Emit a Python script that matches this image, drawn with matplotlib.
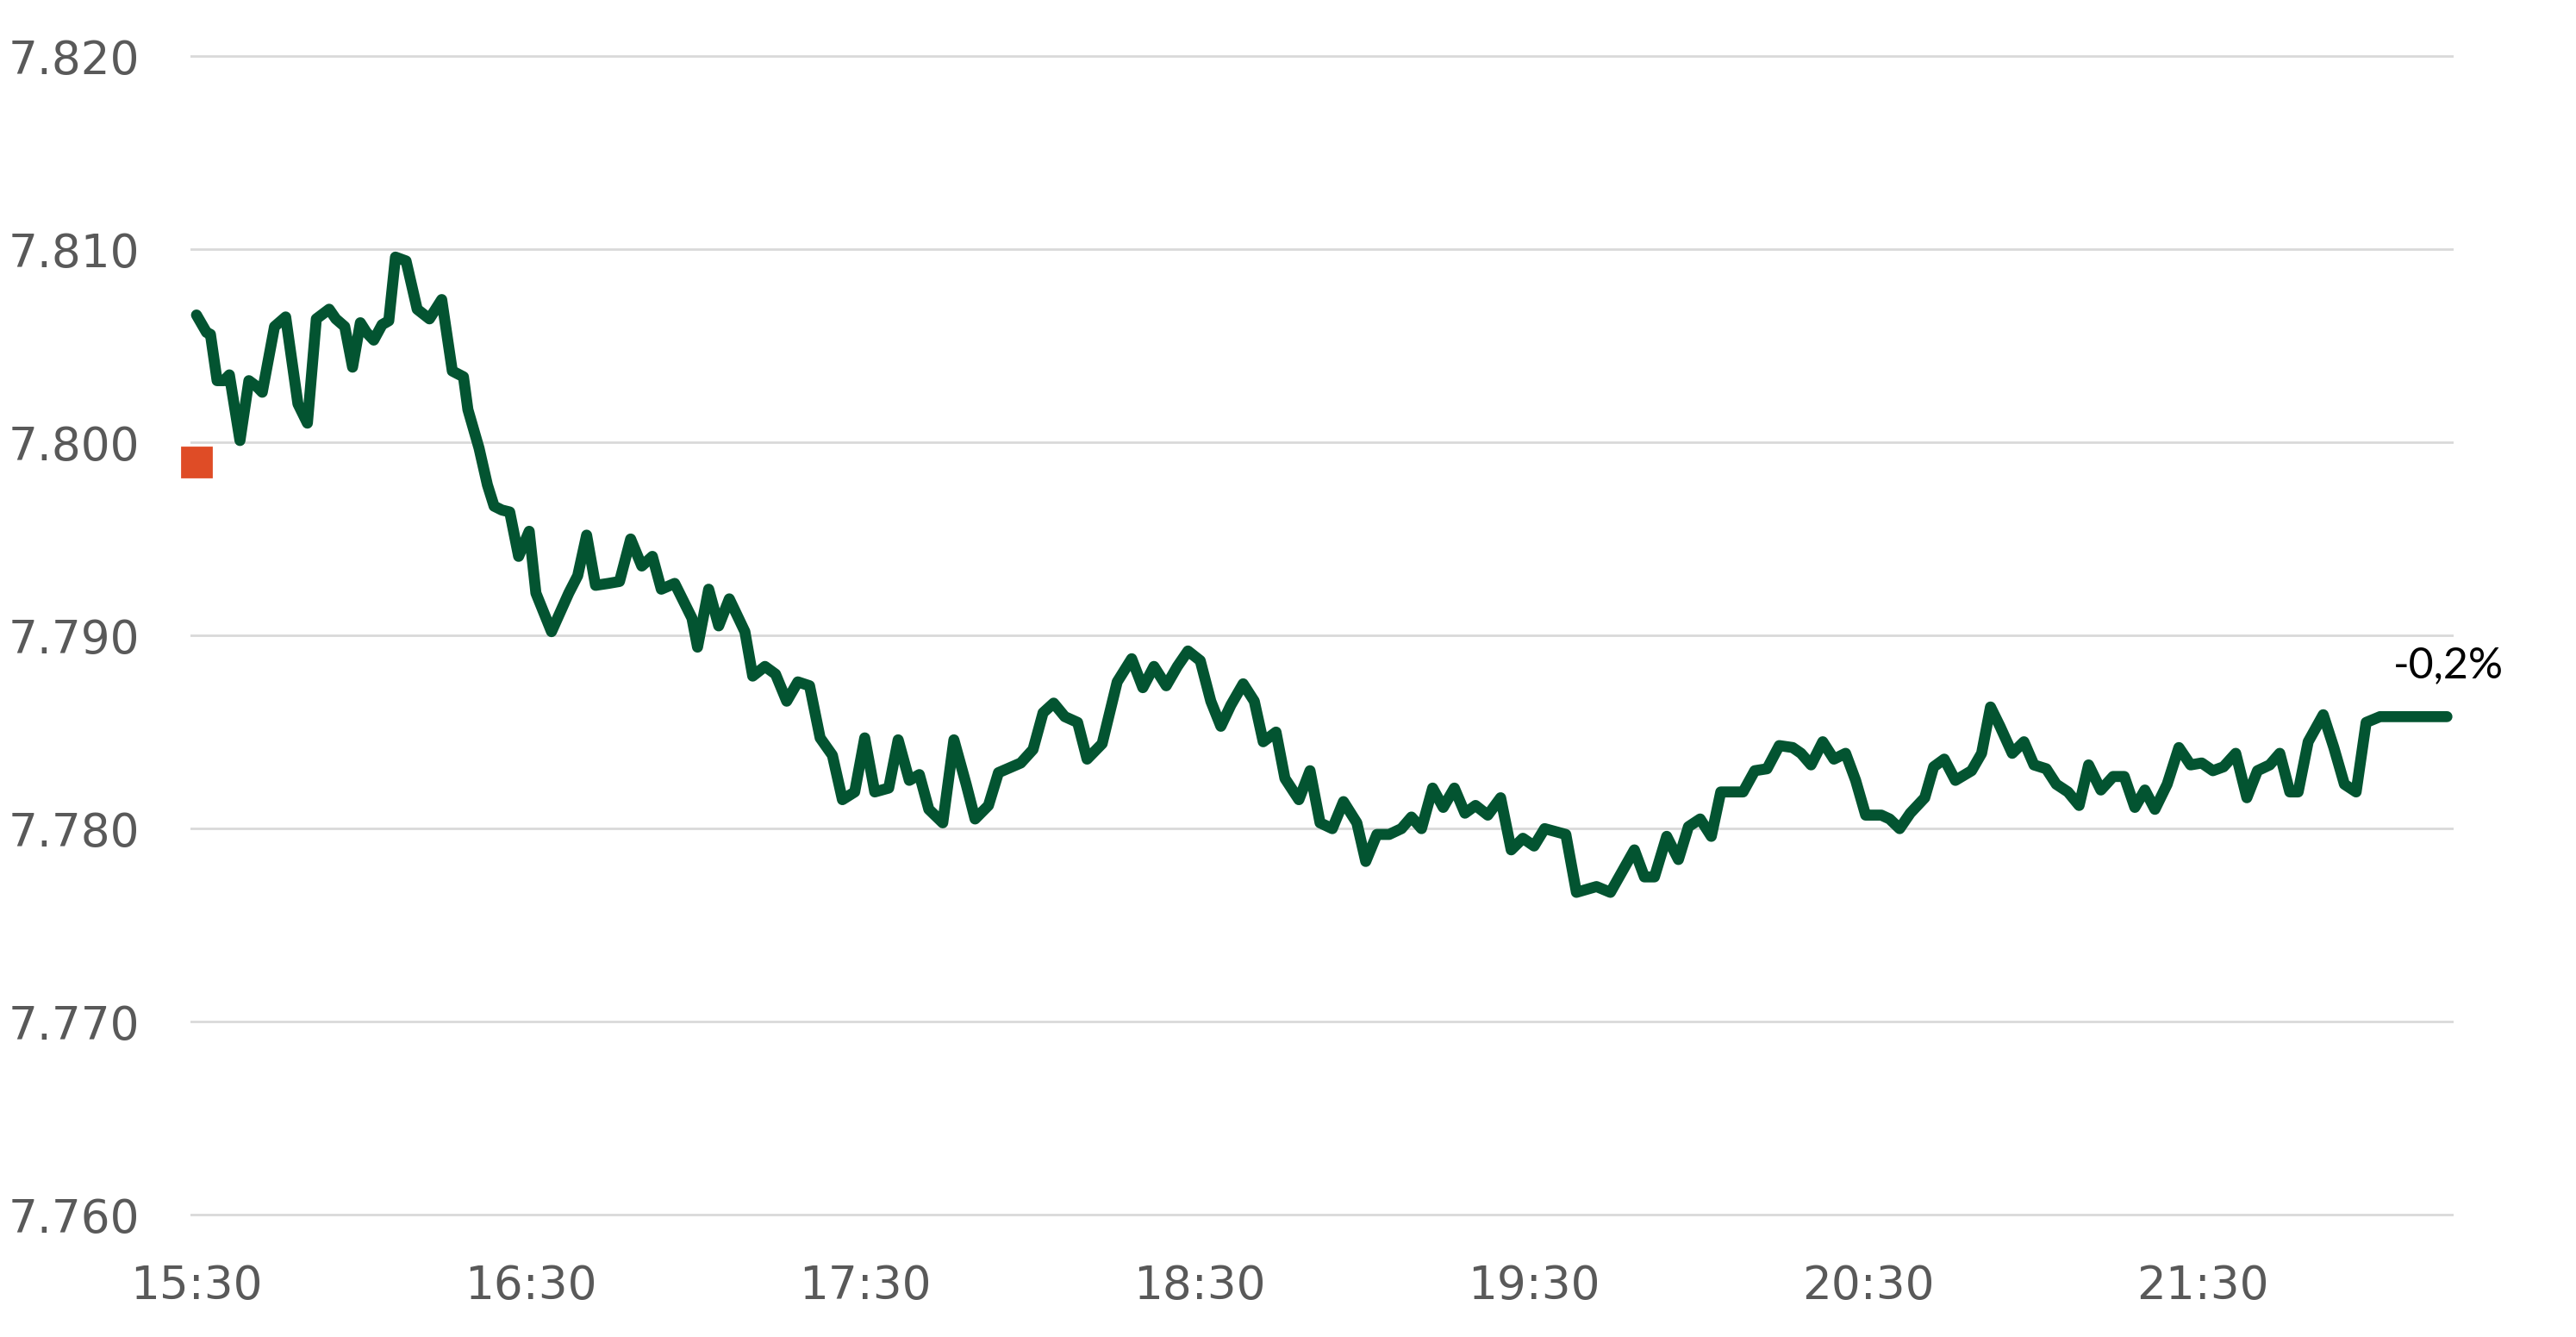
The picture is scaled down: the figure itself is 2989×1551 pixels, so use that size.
import matplotlib
matplotlib.use("Agg")
import matplotlib.pyplot as plt

# minutes after 15:30 and price
minutes = [0, 1.8, 2.5, 3.7, 4.9, 5.9, 7.8, 9.4, 10.8, 11.8, 14.0, 16.0, 18.2, 19.9,
           21.5, 23.8, 25.0, 26.6, 28.0, 29.4, 30.5, 31.8, 33.3, 34.5, 35.7, 37.6,
           39.6, 41.8, 44.0, 45.9, 47.9, 48.7, 50.7, 52.2, 53.4, 54.8, 56.2, 57.8,
           59.7, 60.9, 63.7, 66.8, 68.4, 70.0, 71.6, 73.9, 75.9, 77.9, 79.9, 81.8,
           83.4, 85.8, 88.9, 89.9, 91.9, 93.7, 95.6, 98.4, 99.8, 102.0, 103.9, 105.9,
           107.9, 110.0, 111.9, 114.1, 115.9, 118.1, 119.9, 121.7, 124.2, 125.9,
           127.9, 129.7, 131.4, 133.9, 135.9, 138.1, 139.7, 142.1, 143.9, 147.9,
           150.1, 151.9, 153.8, 155.8, 158.1, 159.8, 162.5, 165.2, 167.8, 169.8,
           171.8, 174.0, 176.0, 177.9, 180.1, 182.0, 183.8, 185.6, 187.8, 189.8,
           191.4, 193.7, 195.3, 197.8, 199.8, 201.6, 203.8, 205.8, 208.2, 209.8,
           211.8, 214.0, 216.2, 218.0, 219.8, 221.8, 223.7, 225.7, 227.6, 229.5,
           231.7, 234.0, 235.9, 238.0, 240.0, 241.9, 245.7, 247.6, 251.2, 253.7,
           258.0, 259.8, 261.6, 263.8, 265.9, 267.7, 269.8, 271.8, 273.5, 277.5,
           279.6, 281.8, 284.0, 286.4, 287.9, 289.7, 291.8, 293.8, 295.9, 297.7,
           299.5, 302.3, 303.8, 305.6, 307.5, 310.1, 311.7, 313.6, 315.6, 318.5,
           320.3, 321.9, 323.6, 325.8, 327.9, 329.7, 331.9, 333.7, 335.8, 337.8,
           339.5, 341.7, 343.9, 345.9, 347.8, 349.6, 351.4, 353.6, 355.7, 357.8,
           359.8, 361.8, 363.7, 365.9, 367.9, 369.8, 372.0, 373.8, 375.6, 377.1,
           378.9, 381.6, 383.5, 385.4, 387.5, 389.3, 391.8, 403.8]

price = [7.8066, 7.8057, 7.8056, 7.8032, 7.8032, 7.8035, 7.8001, 7.8032, 7.8029, 7.8026,
         7.8060, 7.8065, 7.8020, 7.8010, 7.8064, 7.8069, 7.8064, 7.8060, 7.8039, 7.8062,
         7.8057, 7.8053, 7.8061, 7.8063, 7.8096, 7.8094, 7.8069, 7.8064, 7.8074, 7.8037,
         7.8034, 7.8017, 7.7997, 7.7978, 7.7967, 7.7965, 7.7964, 7.7941, 7.7954, 7.7922,
         7.7902, 7.7922, 7.7931, 7.7952, 7.7926, 7.7927, 7.7928, 7.7950, 7.7936, 7.7941,
         7.7924, 7.7927, 7.7909, 7.7894, 7.7924, 7.7905, 7.7919, 7.7902, 7.7879, 7.7884,
         7.7880, 7.7866, 7.7876, 7.7874, 7.7847, 7.7838, 7.7815, 7.7819, 7.7847, 7.7819,
         7.7821, 7.7846, 7.7825, 7.7828, 7.7810, 7.7803, 7.7846, 7.7823, 7.7805, 7.7812,
         7.7829, 7.7834, 7.7841, 7.7860, 7.7865, 7.7858, 7.7855, 7.7836, 7.7844, 7.7876,
         7.7888, 7.7873, 7.7884, 7.7874, 7.7884, 7.7892, 7.7887, 7.7866, 7.7853, 7.7864,
         7.7875, 7.7866, 7.7845, 7.7850, 7.7826, 7.7815, 7.7830, 7.7803, 7.7800, 7.7814,
         7.7803, 7.7783, 7.7797, 7.7797, 7.7800, 7.7806, 7.7800, 7.7821, 7.7811, 7.7821,
         7.7808, 7.7812, 7.7807, 7.7816, 7.7789, 7.7795, 7.7791, 7.7800, 7.7797, 7.7767,
         7.7770, 7.7767, 7.7789, 7.7775, 7.7775, 7.7796, 7.7784, 7.7801, 7.7805, 7.7796,
         7.7819, 7.7819, 7.7830, 7.7831, 7.7843, 7.7842, 7.7839, 7.7833, 7.7845, 7.7836,
         7.7839, 7.7825, 7.7807, 7.7807, 7.7805, 7.7800, 7.7808, 7.7816, 7.7832, 7.7836,
         7.7825, 7.7830, 7.7839, 7.7863, 7.7853, 7.7839, 7.7845, 7.7833, 7.7831, 7.7823,
         7.7819, 7.7812, 7.7833, 7.7820, 7.7827, 7.7827, 7.7811, 7.7820, 7.7810, 7.7823,
         7.7842, 7.7833, 7.7834, 7.7830, 7.7832, 7.7839, 7.7816, 7.7830, 7.7833, 7.7839,
         7.7819, 7.7819, 7.7845, 7.7859, 7.7842, 7.7823, 7.7819, 7.7855, 7.7858, 7.7858]

prev_close = 7.7990
change_label = "-0,2%"

tick_minutes = [0, 60, 120, 180, 240, 300, 360]
tick_labels = ["15:30", "16:30", "17:30", "18:30", "19:30", "20:30", "21:30"]
y_ticks = [7.760, 7.770, 7.780, 7.790, 7.800, 7.810, 7.820]
y_labels = ["7.760", "7.770", "7.780", "7.790", "7.800", "7.810", "7.820"]

fig = plt.figure(figsize=(14.945, 7.755), dpi=200)
ax = fig.add_axes([0.0739, 0.0885, 0.9525 - 0.0739, 0.9608 - 0.0885])

ax.plot(minutes, price, color="#035431", linewidth=4.6,
        solid_joinstyle="round", solid_capstyle="round", zorder=3)
ax.plot([0], [prev_close], marker="s", markersize=12, color="#DF4C26",
        linestyle="none", zorder=4, clip_on=False)

ax.text(404.1, 7.7878, change_label, ha="center", va="baseline",
        fontsize=18, family="Lato", color="black", clip_on=False)

ax.set_xlim(-1.1, 405.0)
ax.set_ylim(7.7598, 7.8202)
ax.set_xticks(tick_minutes)
ax.set_xticklabels(tick_labels)
ax.set_yticks(y_ticks)
ax.set_yticklabels(y_labels)

ax.tick_params(axis="both", length=0, labelsize=19.2, labelcolor="#595959")
ax.tick_params(axis="x", pad=18.7)
ax.tick_params(axis="y", pad=21)
for s in ax.spines.values():
    s.set_visible(False)
ax.yaxis.grid(True, color="#D9D9D9", linewidth=1.0)
ax.set_axisbelow(True)

fig.savefig("out.png", dpi=200, facecolor="white")
